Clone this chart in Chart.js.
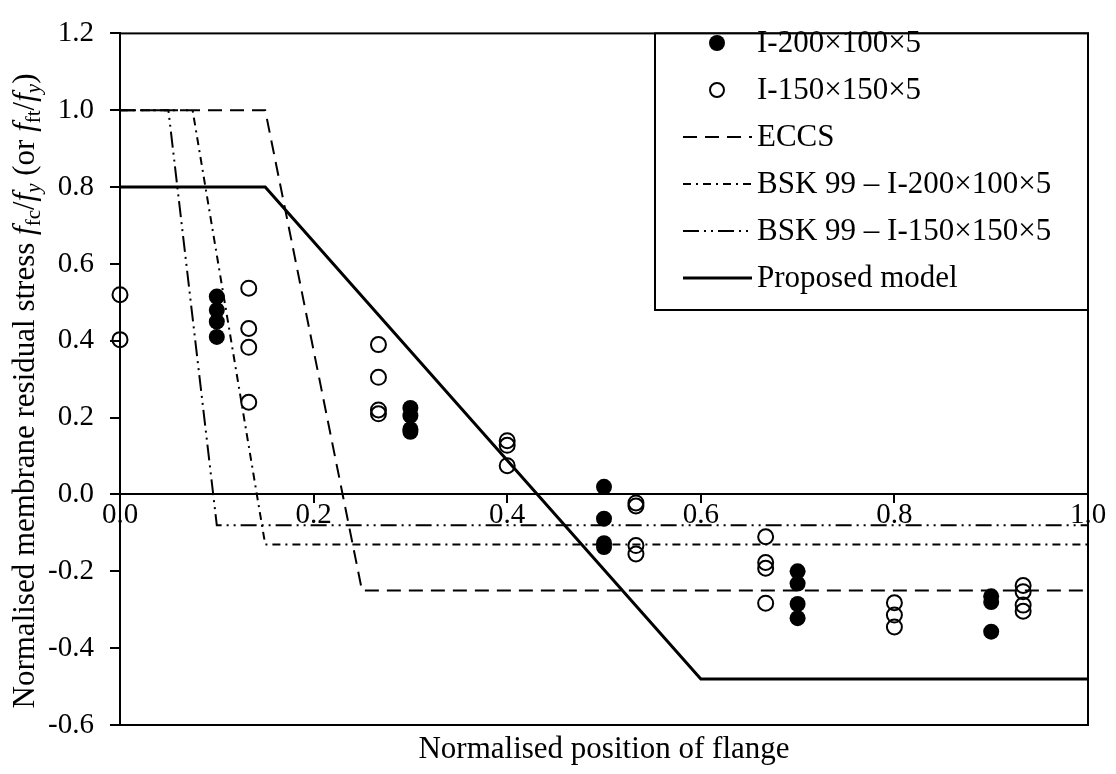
<!DOCTYPE html>
<html>
<head>
<meta charset="utf-8">
<script src="https://cdn.jsdelivr.net/npm/chart.js@4.4.0/dist/chart.umd.min.js"></script>
<style>
  html, body { margin: 0; padding: 0; background: #fff; }
</style>
</head>
<body>
<canvas id="chart" width="1116" height="774"></canvas>
<script>
// Test data: I-200x100x5 (filled) and I-150x150x5 (open)
const x200 = [0.1, 0.1, 0.1, 0.1, 0.3, 0.3, 0.3, 0.3, 0.5, 0.5, 0.5, 0.5, 0.7, 0.7, 0.7, 0.7, 0.9, 0.9, 0.9];
const y200 = [0.515, 0.48, 0.45, 0.41, 0.225, 0.205, 0.17, 0.163, 0.02, -0.063, -0.127, -0.137, -0.2, -0.232, -0.285, -0.322, -0.265, -0.28, -0.357];

const x150 = [0, 0, 0.133, 0.133, 0.133, 0.133, 0.267, 0.267, 0.267, 0.267, 0.4, 0.4, 0.4, 0.533, 0.533, 0.533, 0.533,
  0.667, 0.667, 0.667, 0.667, 0.8, 0.8, 0.8, 0.933, 0.933, 0.933, 0.933];
const y150 = [0.52, 0.403, 0.537, 0.432, 0.383, 0.24, 0.39, 0.305, 0.22, 0.21, 0.14, 0.128, 0.075, -0.022, -0.03, -0.133, -0.155,
  -0.11, -0.177, -0.192, -0.283, -0.282, -0.314, -0.345, -0.237, -0.253, -0.288, -0.304];

// Residual stress models
const eccsX = [0, 0.15, 0.25, 1.0];
const eccsY = [1.0, 1.0, -0.25, -0.25];
const bsk200X = [0, 0.075, 0.15, 1.0];
const bsk200Y = [1.0, 1.0, -0.13, -0.13];
const bsk150X = [0, 0.05, 0.1, 1.0];
const bsk150Y = [1.0, 1.0, -0.08, -0.08];
const propX = [0, 0.15, 0.6, 1.0];
const propY = [0.8, 0.8, -0.48, -0.48];

const yTicks = [-0.6, -0.4, -0.2, 0.0, 0.2, 0.4, 0.6, 0.8, 1.0, 1.2];
const xTicks = [0.0, 0.2, 0.4, 0.6, 0.8, 1.0];

const FONT = "'Liberation Serif', 'Times New Roman', serif";

const pts = (xs, ys) => xs.map((x, i) => ({ x: x, y: ys[i] }));

// Legend entries
const legendItems = [
  { label: "I-200×100×5", kind: "filled" },
  { label: "I-150×150×5", kind: "open" },
  { label: "ECCS", kind: "line", dash: [14, 8], width: 2 },
  { label: "BSK 99 – I-200×100×5", kind: "line", dash: [8, 5, 2, 5], width: 2 },
  { label: "BSK 99 – I-150×150×5", kind: "line", dash: [16, 5, 2, 5, 2, 5], width: 2 },
  { label: "Proposed model", kind: "line", dash: [], width: 3 }
];

// Box around the plot area
const frame = {
  id: "frame",
  beforeDatasetsDraw(chart) {
    const { ctx, chartArea: a } = chart;
    ctx.save();
    ctx.strokeStyle = "#000";
    ctx.lineWidth = 2;
    ctx.strokeRect(a.left, a.top, a.right - a.left, a.bottom - a.top);
    ctx.restore();
  }
};

// Y axis title with italics and subscripts
const yTitle = {
  id: "yTitle",
  afterDraw(chart) {
    const ctx = chart.ctx;
    const parts = [
      { t: "Normalised membrane residual stress " },
      { t: "f", it: true }, { t: "fc", sub: true }, { t: "/" },
      { t: "f", it: true }, { t: "y", sub: true, it: true },
      { t: " (or " },
      { t: "f", it: true }, { t: "ft", sub: true }, { t: "/" },
      { t: "f", it: true }, { t: "y", sub: true, it: true },
      { t: ")" }
    ];
    const fontOf = p => (p.it ? "italic " : "") + (p.sub ? "21px " : "31px ") + FONT;
    ctx.save();
    let total = 0;
    parts.forEach(p => { ctx.font = fontOf(p); p.w = ctx.measureText(p.t).width; total += p.w; });
    ctx.translate(34, 391);
    ctx.rotate(-Math.PI / 2);
    ctx.fillStyle = "#000";
    ctx.textBaseline = "alphabetic";
    let x = -total / 2;
    parts.forEach(p => {
      ctx.font = fontOf(p);
      ctx.fillText(p.t, x, p.sub ? 6 : 0);
      x += p.w;
    });
    ctx.restore();
  }
};

// Legend box inside the plot, top right
const boxLegend = {
  id: "boxLegend",
  afterDraw(chart) {
    const { ctx, chartArea: a } = chart;
    const left = 655, top = a.top, right = a.right, bottom = 310;
    ctx.save();
    ctx.fillStyle = "#fff";
    ctx.fillRect(left, top, right - left, bottom - top);
    ctx.strokeStyle = "#000";
    ctx.lineWidth = 2;
    ctx.strokeRect(left, top, right - left, bottom - top);
    legendItems.forEach((it, i) => {
      const y = 43 + i * 47;
      ctx.strokeStyle = "#000";
      if (it.kind === "line") {
        ctx.lineWidth = it.width;
        ctx.setLineDash(it.dash);
        ctx.beginPath();
        ctx.moveTo(683, y);
        ctx.lineTo(752, y);
        ctx.stroke();
        ctx.setLineDash([]);
      } else {
        ctx.beginPath();
        ctx.arc(717, y, it.kind === "filled" ? 8 : 7, 0, Math.PI * 2);
        if (it.kind === "filled") { ctx.fillStyle = "#000"; ctx.fill(); }
        else { ctx.lineWidth = 2; ctx.stroke(); }
      }
      ctx.fillStyle = "#000";
      ctx.font = "31px " + FONT;
      ctx.textBaseline = "middle";
      ctx.fillText(it.label, 757, y + 1);
    });
    ctx.restore();
  }
};

const lineDs = (label, xs, ys, dash, width) => ({
  label: label,
  data: pts(xs, ys),
  showLine: true,
  borderColor: "#000",
  borderWidth: width,
  borderDash: dash,
  pointRadius: 0,
  fill: false,
  order: 2
});

new Chart(document.getElementById("chart"), {
  type: "scatter",
  data: {
    datasets: [
      {
        label: "I-200×100×5",
        data: pts(x200, y200),
        pointRadius: 8,
        pointBackgroundColor: "#000",
        pointBorderColor: "#000",
        pointBorderWidth: 0,
        clip: false,
        order: 1
      },
      {
        label: "I-150×150×5",
        data: pts(x150, y150),
        pointRadius: 7.5,
        pointBackgroundColor: "rgba(0,0,0,0)",
        pointBorderColor: "#000",
        pointBorderWidth: 2,
        clip: false,
        order: 1
      },
      lineDs("ECCS", eccsX, eccsY, [14, 8], 2),
      lineDs("BSK 99 – I-200×100×5", bsk200X, bsk200Y, [8, 5, 2, 5], 2),
      lineDs("BSK 99 – I-150×150×5", bsk150X, bsk150Y, [16, 5, 2, 5, 2, 5], 2),
      lineDs("Proposed model", propX, propY, [], 3)
    ]
  },
  options: {
    responsive: false,
    animation: false,
    layout: { padding: { top: 18, right: 28, left: 0, bottom: 0 } },
    plugins: {
      legend: { display: false },
      tooltip: { enabled: false }
    },
    scales: {
      x: {
        type: "linear",
        position: { y: 0 },
        min: 0, max: 1,
        afterBuildTicks: s => { s.ticks = xTicks.map(v => ({ value: v })); },
        ticks: {
          color: "#000",
          font: { family: FONT, size: 29 },
          padding: -4,
          maxRotation: 0,
          callback: v => v.toFixed(1)
        },
        grid: { drawOnChartArea: false, drawTicks: true, tickLength: 8, color: "#000", lineWidth: 2 },
        border: { display: true, color: "#000", width: 2 }
      },
      x2: {
        type: "linear",
        axis: "x",
        position: "bottom",
        min: 0, max: 1,
        afterFit: s => { s.height = 49; },
        ticks: { display: false },
        grid: { display: false },
        border: { display: false },
        title: {
          display: true,
          text: "Normalised position of flange",
          color: "#000",
          font: { family: FONT, size: 31 },
          padding: { top: 0, bottom: 6 }
        }
      },
      y: {
        type: "linear",
        min: -0.6, max: 1.2,
        afterFit: s => { s.width = 120; },
        afterBuildTicks: s => { s.ticks = yTicks.map(v => ({ value: v })); },
        ticks: {
          color: "#000",
          font: { family: FONT, size: 29 },
          padding: 16,
          callback: v => v.toFixed(1)
        },
        grid: { drawOnChartArea: false, drawTicks: true, tickLength: 10, color: "#000", lineWidth: 2 },
        border: { display: true, color: "#000", width: 2 }
      }
    }
  },
  plugins: [frame, yTitle, boxLegend]
});
</script>
</body>
</html>
